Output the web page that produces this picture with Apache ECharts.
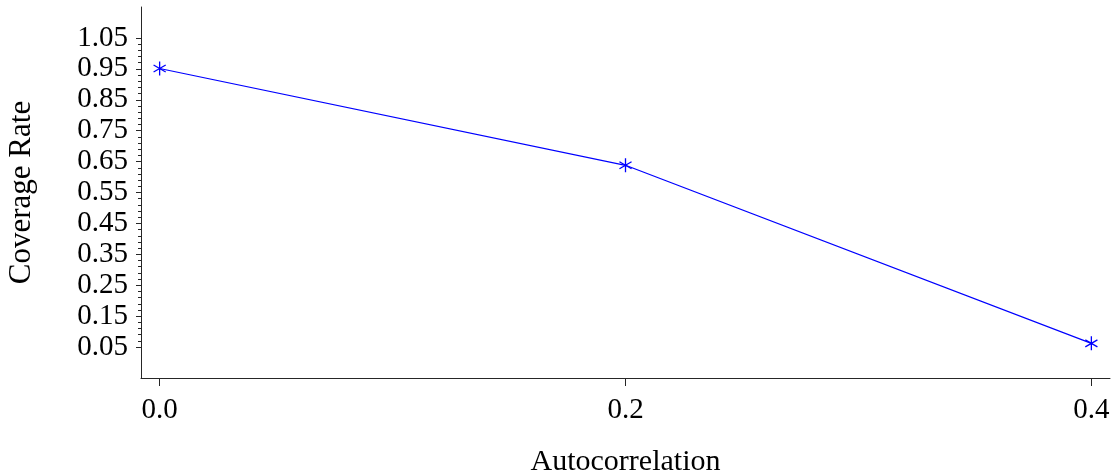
<!DOCTYPE html>
<html>
<head>
<meta charset="utf-8">
<script src="https://cdn.jsdelivr.net/npm/echarts@6/dist/echarts.min.js"></script>
<style>
  html, body { margin: 0; padding: 0; background: #fff; }
  #chart { width: 1115px; height: 476px; }
</style>
</head>
<body>
<div id="chart"></div>
<script>
// Coverage rate of the interval estimate against autocorrelation
const autocorrelation = [0.0, 0.2, 0.4];
const coverageRate = [0.951, 0.638, 0.062];

const xTicks = [0.0, 0.2, 0.4];
const yTicks = [0.05, 0.15, 0.25, 0.35, 0.45, 0.55, 0.65, 0.75, 0.85, 0.95, 1.05];

// four minor ticks between neighbouring major ticks
const yMinorTicks = [];
for (let i = 0; i < yTicks.length - 1; i++) {
  for (let k = 1; k < 5; k++) {
    yMinorTicks.push(+(yTicks[i] + (yTicks[i + 1] - yTicks[i]) * k / 5).toFixed(4));
  }
}

const FONT = '"Liberation Serif", "DejaVu Serif", serif';
const INK = '#262626';
const BLUE = '#0000ff';
const ASTERISK = 'path://M0,-10L0,10M-8.66,-5L8.66,5M-8.66,5L8.66,-5';

const chart = echarts.init(document.getElementById('chart'), null, { renderer: 'canvas' });
chart.setOption({
  animation: false,
  backgroundColor: '#fff',
  grid: { left: 141, right: 5, top: 7, bottom: 98, containLabel: false, outerBoundsMode: 'none' },
  xAxis: {
    type: 'value',
    min: -0.008,
    max: 0.408,
    name: 'Autocorrelation',
    nameLocation: 'middle',
    nameGap: 69,
    nameTextStyle: { fontFamily: FONT, fontSize: 30, color: '#000' },
    axisLine: { show: true, onZero: false, lineStyle: { color: INK, width: 1 } },
    axisTick: { show: true, length: 8, customValues: xTicks, lineStyle: { color: INK } },
    axisLabel: {
      customValues: xTicks,
      margin: 18,
      fontFamily: FONT, fontSize: 29, color: '#000',
      formatter: v => v.toFixed(1)
    },
    splitLine: { show: false }
  },
  yAxis: [{
    type: 'value',
    min: -0.05,
    max: 1.15,
    name: 'Coverage Rate',
    nameLocation: 'middle',
    nameGap: 104,
    nameRotate: 90,
    nameTextStyle: { fontFamily: FONT, fontSize: 31, color: '#000' },
    axisLine: { show: true, onZero: false, lineStyle: { color: INK, width: 1 } },
    axisTick: { show: true, length: 5, customValues: yTicks, lineStyle: { color: INK } },
    axisLabel: {
      customValues: yTicks,
      margin: 13,
      fontFamily: FONT, fontSize: 29, color: '#000',
      formatter: v => v.toFixed(2)
    },
    splitLine: { show: false }
  }, {
    type: 'value',
    position: 'left',
    min: -0.05,
    max: 1.15,
    axisLine: { show: false, onZero: false },
    axisTick: { show: true, length: 3, customValues: yMinorTicks, lineStyle: { color: INK } },
    axisLabel: { show: false },
    splitLine: { show: false }
  }],
  series: [{
    type: 'line',
    yAxisIndex: 0,
    data: autocorrelation.map((x, i) => [x, coverageRate[i]]),
    symbol: ASTERISK,
    symbolSize: 14,
    symbolKeepAspect: true,
    showAllSymbol: true,
    lineStyle: { color: BLUE, width: 1.2 },
    itemStyle: { color: 'none', borderColor: BLUE, borderWidth: 1.3 },
    emphasis: { disabled: true }
  }]
});
</script>
</body>
</html>
